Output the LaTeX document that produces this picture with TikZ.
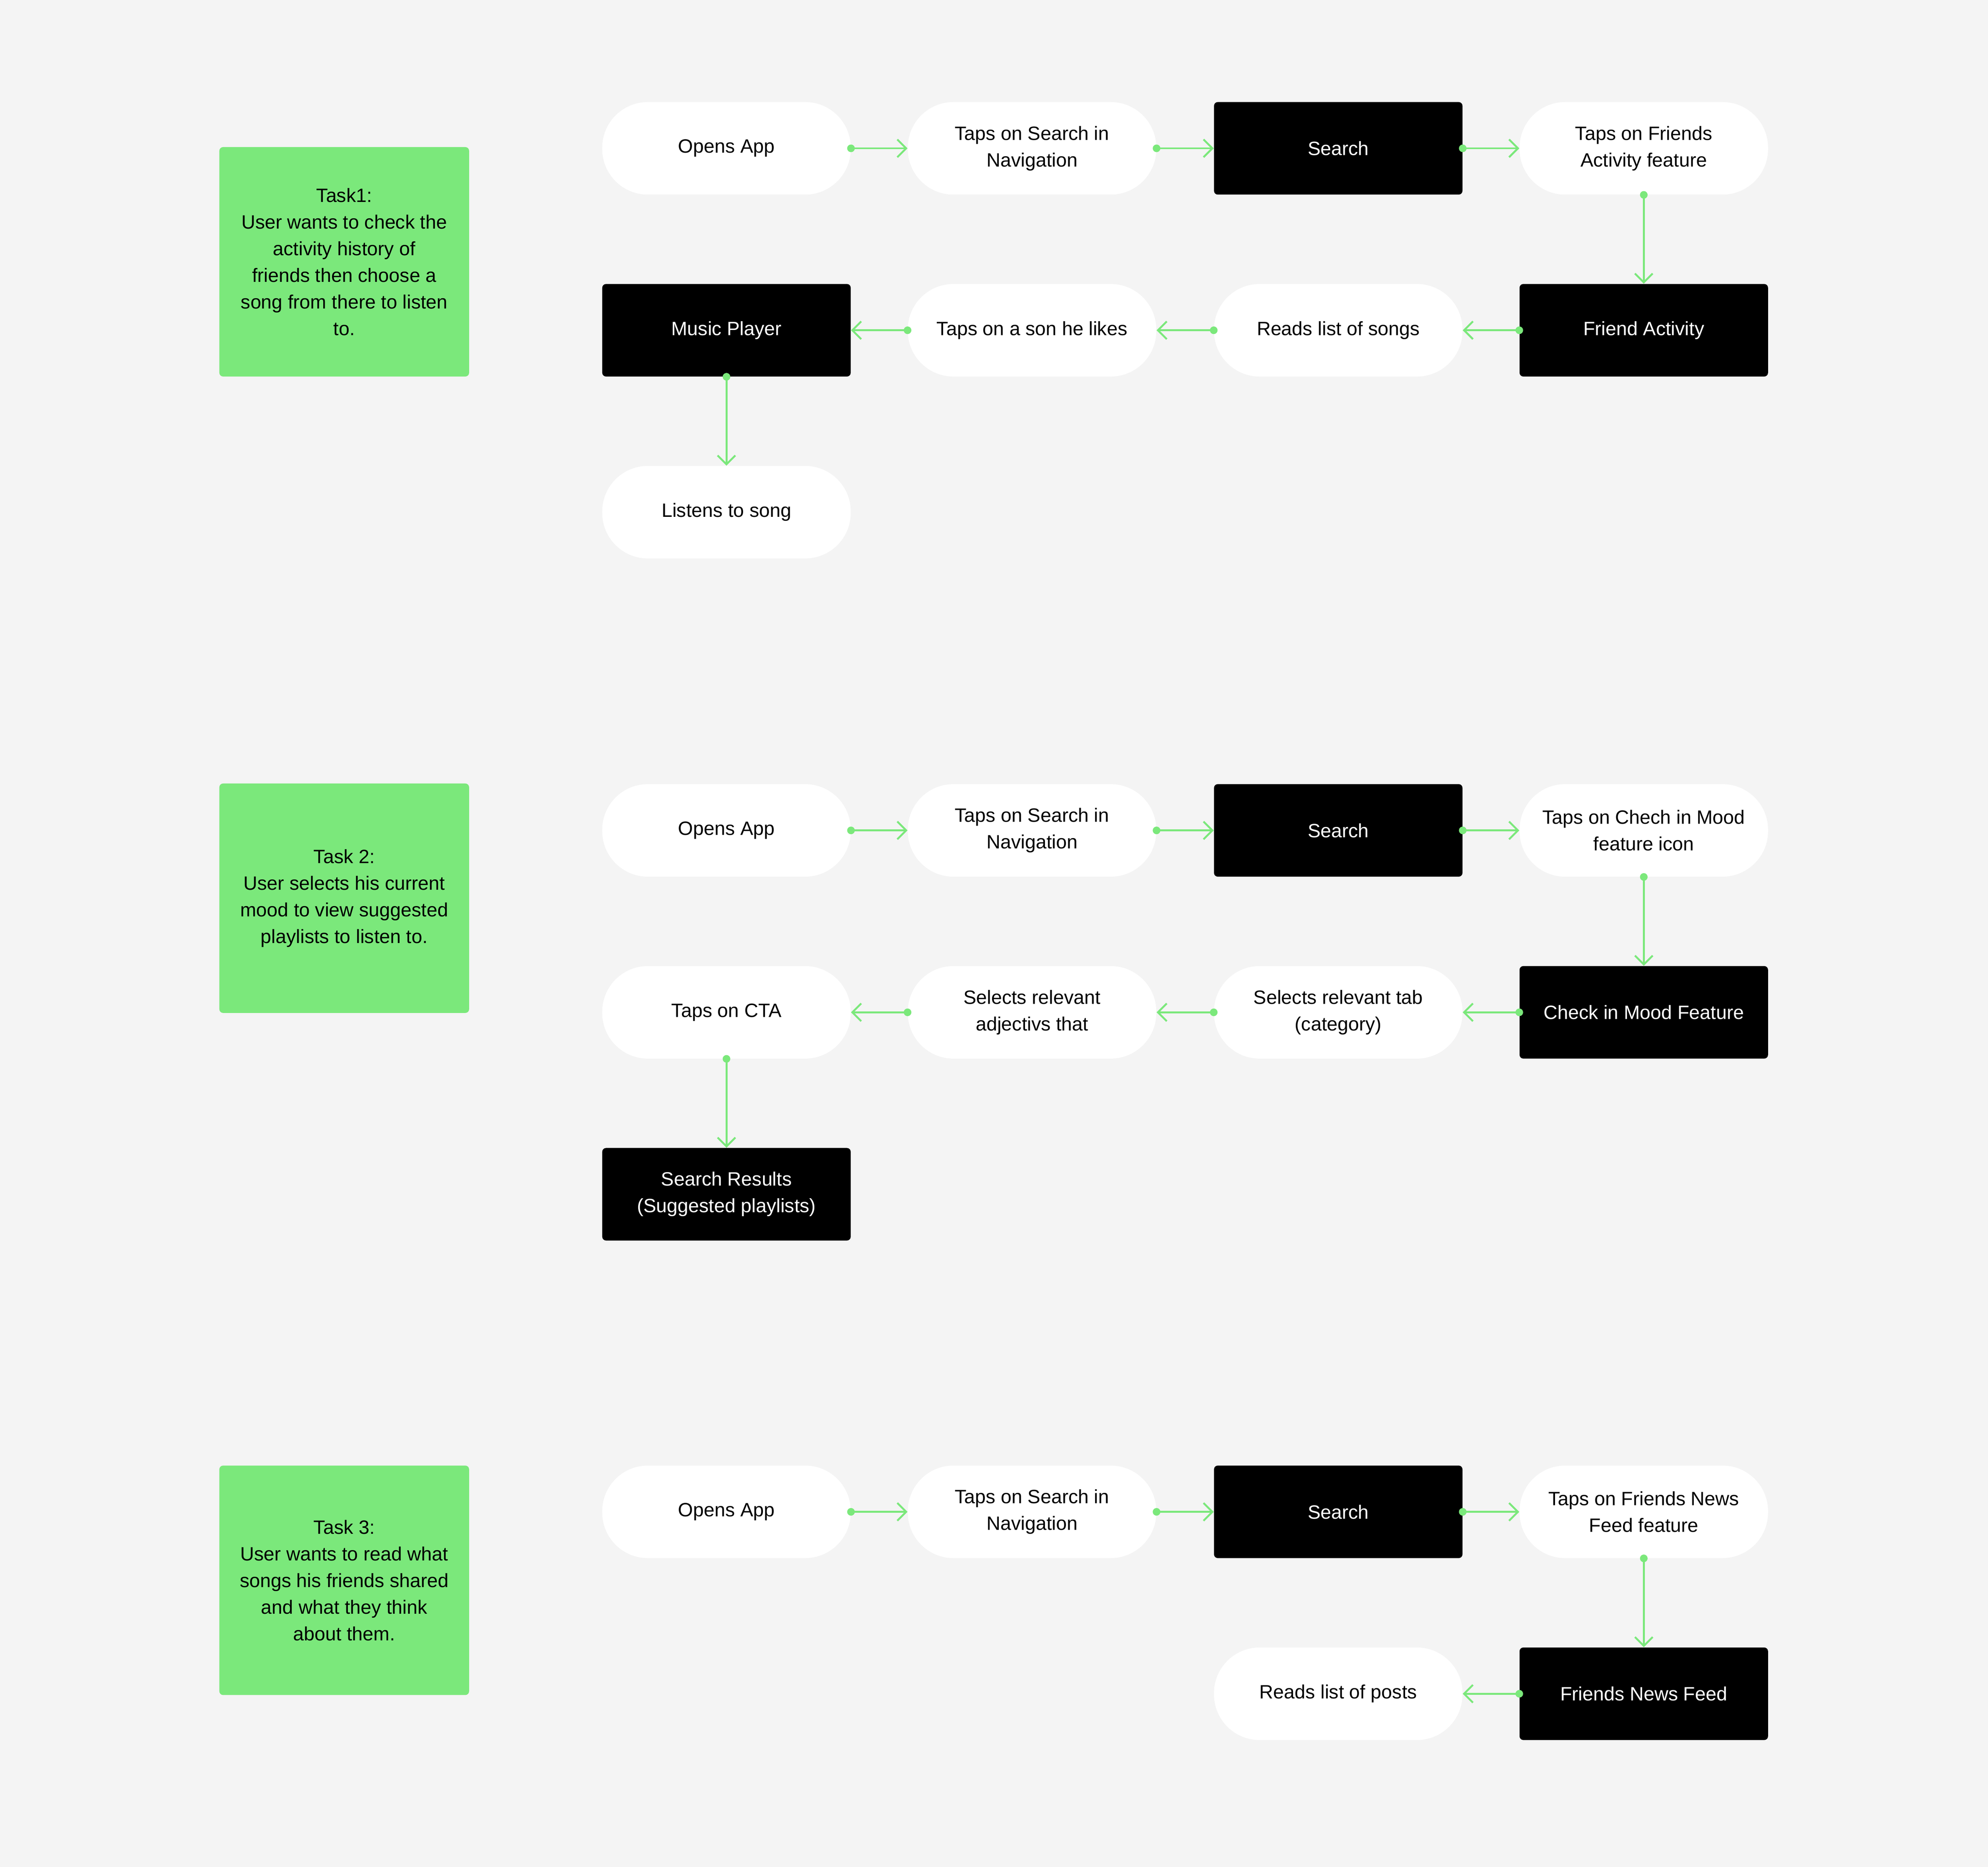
\documentclass[tikz,border=0pt]{standalone}
\usepackage{fontspec}
\setmainfont{Liberation Sans}
\usetikzlibrary{arrows.meta}

\definecolor{pagegrey}{HTML}{F4F4F4}
\definecolor{taskgreen}{HTML}{7BE87B}

\begin{document}
\begin{tikzpicture}[x=1pt, y=1pt,
    every node/.style={font=\fontsize{15.2}{21}\selectfont, align=center, inner sep=0pt},
    task/.style={fill=taskgreen, rounded corners=3pt, minimum width=197pt, minimum height=181pt},
    action/.style={fill=white, rounded corners=36pt, minimum width=196pt, minimum height=73pt},
    screen/.style={fill=black, text=white, rounded corners=3pt, minimum width=196pt, minimum height=73pt},
    flow/.style={draw=taskgreen, line width=1.5pt, {Circle[length=6pt]}-{Straight Barb[length=7pt,width=14pt]}, shorten <=-3pt}]

    % page
    \fill[pagegrey] (0, 0) rectangle (1568, -1472.6);

    % Task 1: friend activity
    \begin{scope}[shift={(0,0)}]
        \node[task] (task1) at (271.5, -206.5) {Task1:\\User wants to check the\\activity history of\\friends then choose a\\song from there to listen\\to.};
        \node[action] (open1) at (573, -117) {Opens App};
        \node[action] (nav1) at (814, -117) {Taps on Search in\\Navigation};
        \node[screen] (search1) at (1055.5, -117) {Search};
        \node[action] (friends1) at (1296.5, -117) {Taps on Friends\\Activity feature};
        \node[screen] (activity1) at (1296.5, -260.5) {Friend Activity};
        \node[action] (songs1) at (1055.5, -260.5) {Reads list of songs};
        \node[action] (pick1) at (814, -260.5) {Taps on a son he likes};
        \node[screen] (player1) at (573, -260.5) {Music Player};
        \node[action] (listen1) at (573, -404) {Listens to song};
        \draw[flow] (open1.east) -- (nav1.west);
        \draw[flow] (nav1.east) -- (search1.west);
        \draw[flow] (search1.east) -- (friends1.west);
        \draw[flow] (friends1.south) -- (activity1.north);
        \draw[flow] (activity1.west) -- (songs1.east);
        \draw[flow] (songs1.west) -- (pick1.east);
        \draw[flow] (pick1.west) -- (player1.east);
        \draw[flow] (player1.south) -- (listen1.north);
    \end{scope}

    % Task 2: check in mood
    \begin{scope}[shift={(0,-538)}]
        \node[task] (task2) at (271.5, -170.5) {Task 2:\\User selects his current\\mood to view suggested\\playlists to listen to.};
        \node[action] (open2) at (573, -117) {Opens App};
        \node[action] (nav2) at (814, -117) {Taps on Search in\\Navigation};
        \node[screen] (search2) at (1055.5, -117) {Search};
        \node[action] (mood2) at (1296.5, -117) {Taps on Chech in Mood\\feature icon};
        \node[screen] (checkin2) at (1296.5, -260.5) {Check in Mood Feature};
        \node[action] (tab2) at (1055.5, -260.5) {Selects relevant tab\\(category)};
        \node[action] (adj2) at (814, -260.5) {Selects relevant\\adjectivs that};
        \node[action] (cta2) at (573, -260.5) {Taps on CTA};
        \node[screen] (results2) at (573, -404) {Search Results\\(Suggested playlists)};
        \draw[flow] (open2.east) -- (nav2.west);
        \draw[flow] (nav2.east) -- (search2.west);
        \draw[flow] (search2.east) -- (mood2.west);
        \draw[flow] (mood2.south) -- (checkin2.north);
        \draw[flow] (checkin2.west) -- (tab2.east);
        \draw[flow] (tab2.west) -- (adj2.east);
        \draw[flow] (adj2.west) -- (cta2.east);
        \draw[flow] (cta2.south) -- (results2.north);
    \end{scope}

    % Task 3: friends news feed
    \begin{scope}[shift={(0,-1075.5)}]
        \node[task] (task3) at (271.5, -171) {Task 3:\\User wants to read what\\songs his friends shared\\and what they think\\about them.};
        \node[action] (open3) at (573, -117) {Opens App};
        \node[action] (nav3) at (814, -117) {Taps on Search in\\Navigation};
        \node[screen] (search3) at (1055.5, -117) {Search};
        \node[action] (news3) at (1296.5, -117) {Taps on Friends News\\Feed feature};
        \node[screen] (feed3) at (1296.5, -260.5) {Friends News Feed};
        \node[action] (posts3) at (1055.5, -260.5) {Reads list of posts};
        \draw[flow] (open3.east) -- (nav3.west);
        \draw[flow] (nav3.east) -- (search3.west);
        \draw[flow] (search3.east) -- (news3.west);
        \draw[flow] (news3.south) -- (feed3.north);
        \draw[flow] (feed3.west) -- (posts3.east);
    \end{scope}
\end{tikzpicture}
\end{document}
